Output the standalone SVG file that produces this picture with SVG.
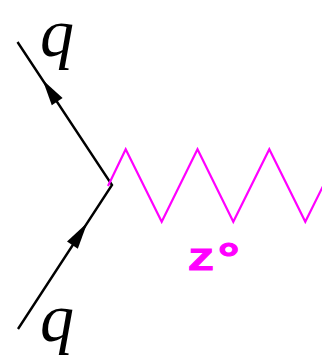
<svg xmlns="http://www.w3.org/2000/svg" width="322" height="356" viewBox="0 0 322 356">
  <style>
    .fermion { fill: none; stroke: #000; stroke-width: 2.4; stroke-linejoin: miter; }
    .arrow { fill: #000; stroke: none; }
    .boson { fill: none; stroke: #ff00ff; stroke-width: 2.2; stroke-linejoin: miter; }
    .qlabel { font-family: "Liberation Serif", "Times New Roman", serif; font-style: italic; font-size: 68px; fill: #000; }
    .zlabel { font-family: "Liberation Mono", "Courier New", monospace; font-weight: bold; fill: #ff00ff; stroke: #ff00ff; stroke-width: 1.1; }
  </style>
  <rect width="322" height="356" fill="#fff"/>
  <g id="connectors">
    <path id="fermion-line" class="fermion" d="M18,329 L112,185 L17.5,42"/>
    <polygon class="arrow" points="42.7,80 62.6,98 51.8,105.2"/>
    <polygon class="arrow" points="87.3,222.7 77.8,248.8 67,241.6"/>
    <path id="z-boson" class="boson" d="M108,186 L125.7,149.3 L161.7,221.7 L197.5,149.3 L233.3,221.7 L269.3,149.3 L305.3,221.7 L341.3,149.3"/>
  </g>
  <g id="q-out">
    <text class="qlabel" x="40" y="56">q</text>
  </g>
  <g id="q-in">
    <text class="qlabel" x="40" y="341">q</text>
  </g>
  <g id="z-label">
    <text class="zlabel" transform="translate(188,269.5) scale(1.35,1)" x="0" y="0" font-size="32">Z<tspan font-size="40" dy="2" dx="-1">°</tspan></text>
  </g>
</svg>
